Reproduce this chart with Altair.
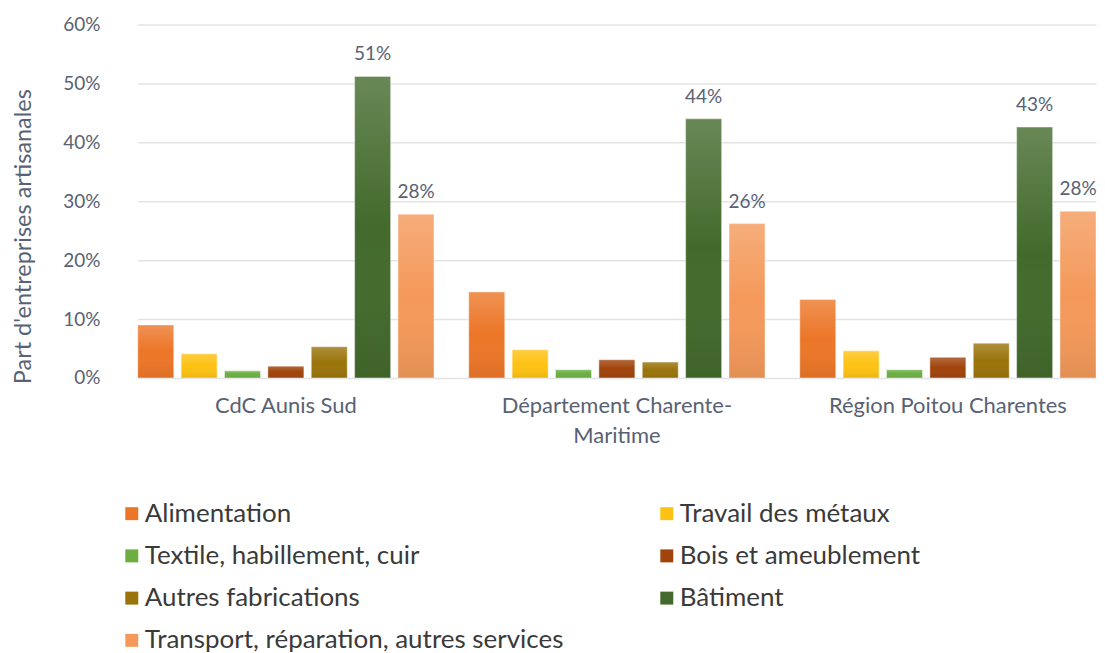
import altair as alt
import pandas as pd

groups = ["CdC Aunis Sud", "Département Charente-Maritime", "Région Poitou Charentes"]
categories = [
    "Alimentation",
    "Travail des métaux",
    "Textile, habillement, cuir",
    "Bois et ameublement",
    "Autres fabrications",
    "Bâtiment",
    "Transport, réparation, autres services",
]
colors = ["#EC7628", "#FEC214", "#6CAE42", "#A0440C", "#9A740B", "#436A2C", "#F4995A"]

cdc = [0.090, 0.041, 0.012, 0.020, 0.053, 0.512, 0.278]
dept = [0.146, 0.048, 0.014, 0.031, 0.027, 0.440, 0.262]
region = [0.133, 0.046, 0.014, 0.035, 0.059, 0.426, 0.283]

rows = []
for g, vals in zip(groups, [cdc, dept, region]):
    for c, v in zip(categories, vals):
        rows.append({"groupe": g, "categorie": c, "part": v})
df = pd.DataFrame(rows)

FONT = "Lato"
TXT = "#586274"

x_enc = alt.X(
    "groupe:N",
    sort=groups,
    scale=alt.Scale(range=[18, 978], paddingInner=0.105, paddingOuter=0),
    axis=alt.Axis(
        title=None,
        labelAngle=0,
        ticks=False,
        domain=False,
        grid=False,
        labelFontSize=22,
        labelColor=TXT,
        labelFont=FONT,
        labelPadding=18,
        labelLineHeight=30,
        labelLimit=400,
        labelExpr="datum.value == 'Département Charente-Maritime' ? ['Département Charente-', 'Maritime'] : datum.label",
    ),
)
xo_enc = alt.XOffset(
    "categorie:N",
    sort=categories,
    scale=alt.Scale(domain=categories, paddingInner=0.17, paddingOuter=0),
)
y_enc = alt.Y(
    "part:Q",
    scale=alt.Scale(domain=[0, 0.6], nice=False),
    axis=alt.Axis(
        title="Part d'entreprises artisanales",
        format=".0%",
        values=[0, 0.1, 0.2, 0.3, 0.4, 0.5, 0.6],
        ticks=False,
        domain=False,
        gridColor="#E3E3E3",
        gridWidth=1.5,
        labelFontSize=19,
        labelColor=TXT,
        labelFont=FONT,
        labelPadding=20,
        titleFontSize=23.5,
        titleFontWeight="normal",
        titleColor=TXT,
        titleFont=FONT,
        titleAngle=-90,
        titleX=-96,
        titleY=212,
        titleAlign="center",
        titleBaseline="middle",
    ),
)

base = alt.Chart(df)

bars = base.mark_bar(stroke="rgba(255,255,255,0.45)", strokeWidth=1).encode(
    x=x_enc,
    xOffset=xo_enc,
    y=y_enc,
    color=alt.Color(
        "categorie:N",
        sort=categories,
        scale=alt.Scale(domain=categories, range=colors),
        legend=alt.Legend(
            title=None,
            orient="none",
            legendX=-1,
            legendY=477,
            columns=2,
            direction="horizontal",
            symbolType="square",
            symbolSize=169,
            symbolStrokeWidth=0,
            labelFontSize=26,
            labelFont=FONT,
            labelColor="#3A3A3A",
            labelLimit=700,
            rowPadding=16.3,
            columnPadding=90,
            symbolOffset=0,
            labelOffset=0,
        ),
    ),
)

shine = base.mark_bar(
    color=alt.Gradient(
        gradient="linear",
        stops=[
            alt.GradientStop(color="rgba(255,255,255,0.2)", offset=0),
            alt.GradientStop(color="rgba(255,255,255,0)", offset=0.5),
            alt.GradientStop(color="rgba(0,0,0,0.07)", offset=1),
        ],
        x1=0, x2=0, y1=0, y2=1,
    )
).encode(x=x_enc, xOffset=xo_enc, y=y_enc)

labels = base.transform_filter(
    alt.FieldOneOfPredicate(field="categorie", oneOf=["Bâtiment", "Transport, réparation, autres services"])
).mark_text(
    baseline="alphabetic", dy=-16, fontSize=19, font=FONT, color=TXT
).encode(x=x_enc, xOffset=xo_enc, y=y_enc, text=alt.Text("part:Q", format=".0%"))

chart = alt.layer(bars, shine, labels).properties(
    width=979,
    height=354,
    padding={"left": 3, "top": 7, "right": 0, "bottom": 0},
).configure(font=FONT).configure_view(stroke=None)

chart.save("out.html", embed_options={"renderer": "svg", "actions": False})
